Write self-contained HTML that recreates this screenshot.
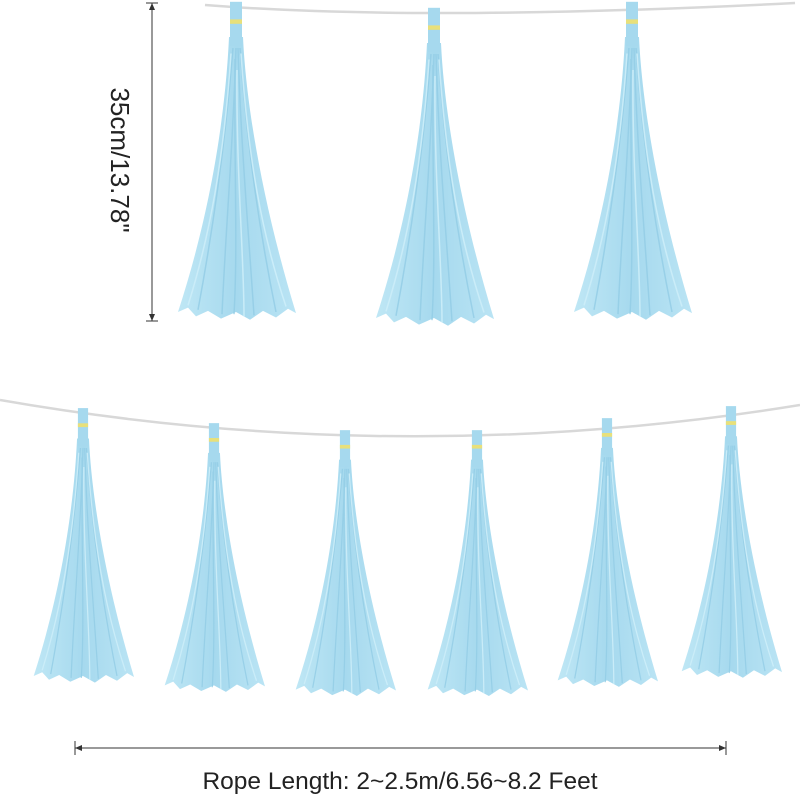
<!DOCTYPE html>
<html><head><meta charset="utf-8"><style>
html,body{margin:0;padding:0;background:#fff;width:800px;height:800px;overflow:hidden}
svg{display:block}
</style></head><body>
<svg width="800" height="800" viewBox="0 0 800 800" xmlns="http://www.w3.org/2000/svg">
<defs>
<linearGradient id="tg" x1="0" x2="1" y1="0" y2="0">
<stop offset="0" stop-color="#bfe7f5"/><stop offset="0.5" stop-color="#a6d9ee"/><stop offset="1" stop-color="#bae4f4"/>
</linearGradient>
<g id="tassel">
<path d="M-7,30 C-10,90 -22,180 -58,280 L-48,276 -40,284 -28,279 -15,286 0,280 14,287 27,279 40,285 52,277 60,281 C26,180 10,90 7,30 Z" fill="url(#tg)"/>
<g stroke="#93cde6" stroke-width="1.5" fill="none" opacity="0.8">
<path d="M-3,40 C-10,120 -22,200 -38,278"/><path d="M0,40 C-3,130 -10,200 -14,282"/>
<path d="M2,40 C5,130 12,200 18,283"/><path d="M4,40 C10,120 22,200 40,280"/>
<path d="M-1,50 C-2,150 2,220 -2,282"/>
</g>
<g stroke="#cdeef9" stroke-width="1.5" fill="none" opacity="0.9">
<path d="M-5,45 C-12,140 -26,210 -48,274"/><path d="M5,45 C12,140 26,210 50,275"/><path d="M1,60 C0,150 8,230 8,284"/>
</g>
<rect x="-6" y="-2" width="12" height="40" fill="#a6d9ee"/>
<rect x="-6" y="14" width="12" height="4" fill="#e8e07a"/>
</g>
</defs>
<path d="M205,5 Q420,22 795,3" stroke="#d8d8d8" stroke-width="2.5" fill="none"/>
<use href="#tassel" transform="translate(236,4) scale(1,1.1)"/>
<use href="#tassel" transform="translate(434,10) scale(1,1.1)"/>
<use href="#tassel" transform="translate(632,4) scale(1,1.1)"/>
<line x1="152" y1="3" x2="152" y2="321" stroke="#333" stroke-width="1"/>
<line x1="146" y1="3" x2="158" y2="3" stroke="#333"/>
<line x1="146" y1="321" x2="158" y2="321" stroke="#333"/>
<path d="M152,3 l-3,7 h6 z M152,321 l-3,-7 h6 z" fill="#333"/>
<text x="0" y="0" transform="translate(111,160) rotate(90)" text-anchor="middle" font-family="Liberation Sans, sans-serif" font-size="26" fill="#222">35cm/13.78"</text>
<path d="M0,400 Q400,470 800,405" stroke="#d8d8d8" stroke-width="2.5" fill="none"/>
<use href="#tassel" transform="translate(83,410) scale(0.85,0.95)"/>
<use href="#tassel" transform="translate(214,425) scale(0.85,0.93)"/>
<use href="#tassel" transform="translate(345,432) scale(0.85,0.92)"/>
<use href="#tassel" transform="translate(477,432) scale(0.85,0.92)"/>
<use href="#tassel" transform="translate(607,420) scale(0.85,0.93)"/>
<use href="#tassel" transform="translate(731,408) scale(0.85,0.94)"/>
<line x1="75" y1="748" x2="726" y2="748" stroke="#333" stroke-width="1"/>
<line x1="75" y1="741" x2="75" y2="755" stroke="#333"/>
<line x1="726" y1="741" x2="726" y2="755" stroke="#333"/>
<path d="M75,748 l7,-3 v6 z M726,748 l-7,-3 v6 z" fill="#333"/>
<text x="400" y="789" text-anchor="middle" font-family="Liberation Sans, sans-serif" font-size="24.5" fill="#222">Rope Length: 2~2.5m/6.56~8.2 Feet</text>
</svg>
</body></html>
